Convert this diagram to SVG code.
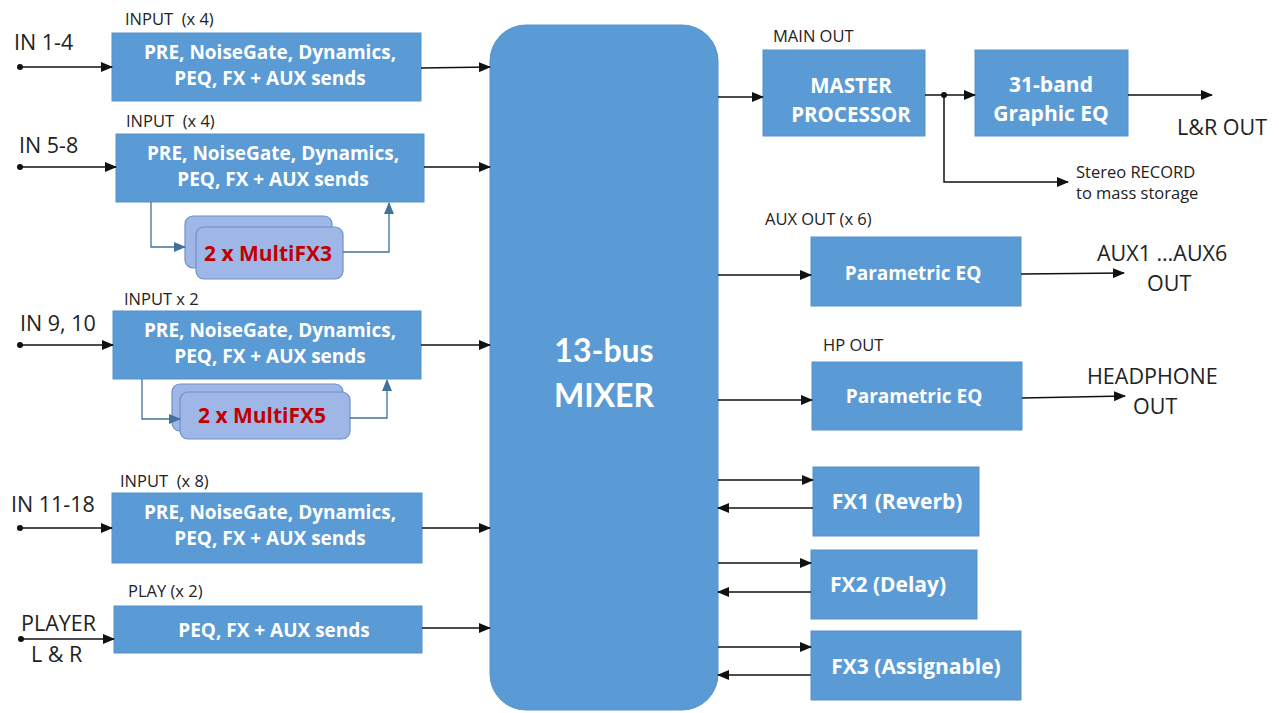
<svg xmlns="http://www.w3.org/2000/svg" width="1279" height="713" viewBox="0 0 1279 713">
<defs>
<style>
.box{fill:#5b9bd5;stroke:#5592cc;stroke-width:1}
.bt{font-family:"Open Sans","Liberation Sans",sans-serif;font-weight:bold;fill:#ffffff;font-size:19px;text-anchor:middle}
.mx{font-family:Lato,"Liberation Sans",sans-serif;font-weight:bold;fill:#ffffff;font-size:32px;text-anchor:middle}
.lbl{font-family:"Open Sans","Liberation Sans",sans-serif;fill:#222;font-size:16.5px;white-space:pre}
.big{font-family:"Open Sans","Liberation Sans",sans-serif;fill:#222;font-size:21.5px}
.con{fill:none;stroke:#111;stroke-width:1.5}
.fxc{fill:none;stroke:#41719c;stroke-width:1.3}
.card{fill:#9fb7e6;stroke:#6f8fcc;stroke-width:1.2}
.red{font-family:"Open Sans","Liberation Sans",sans-serif;font-weight:bold;fill:#c00000;font-size:21px;text-anchor:middle}
</style>
<marker id="ah" markerWidth="12" markerHeight="10" refX="11" refY="5" orient="auto" markerUnits="userSpaceOnUse"><path d="M0,0 L12,5 L0,10 z" fill="#111"/></marker>
<marker id="ahb" markerWidth="12" markerHeight="10" refX="11" refY="5" orient="auto" markerUnits="userSpaceOnUse"><path d="M0,0 L12,5 L0,10 z" fill="#41719c"/></marker>
</defs>
<rect width="1279" height="713" fill="#ffffff"/>

<g id="mixer">
<rect x="490" y="25" width="228" height="685" rx="36" ry="36" class="box"/>
<text x="604" y="362" class="mx">13-bus</text>
<text x="604" y="407" class="mx">MIXER</text>
</g>

<g id="in1">
<text x="14" y="50" class="big">IN 1-4</text>
<text x="125" y="25" class="lbl" xml:space="preserve">INPUT  (x 4)</text>
<rect x="112" y="33" width="309" height="68" class="box"/>
<text x="270" y="59" class="bt">PRE, NoiseGate, Dynamics,</text>
<text x="270" y="85" class="bt">PEQ, FX + AUX sends</text>
</g>

<g id="in2">
<text x="19" y="153" class="big">IN 5-8</text>
<text x="126" y="127" class="lbl" xml:space="preserve">INPUT  (x 4)</text>
<rect x="116" y="134" width="308" height="68" class="box"/>
<text x="273" y="160" class="bt">PRE, NoiseGate, Dynamics,</text>
<text x="273" y="186" class="bt">PEQ, FX + AUX sends</text>
</g>

<g id="mfx3">
<rect x="185" y="216" width="147" height="52" rx="8" class="card"/>
<rect x="196" y="227" width="147" height="52" rx="8" class="card"/>
<text x="268" y="261" class="red">2 x MultiFX3</text>
</g>

<g id="in3">
<text x="20" y="331" class="big">IN 9, 10</text>
<text x="124" y="305" class="lbl">INPUT x 2</text>
<rect x="113" y="311" width="308" height="68" class="box"/>
<text x="270" y="337" class="bt">PRE, NoiseGate, Dynamics,</text>
<text x="270" y="363" class="bt">PEQ, FX + AUX sends</text>
</g>

<g id="mfx5">
<rect x="172" y="384" width="171" height="47" rx="8" class="card"/>
<rect x="180" y="392" width="170" height="47" rx="8" class="card"/>
<text x="262" y="423" class="red">2 x MultiFX5</text>
</g>

<g id="in4">
<text x="11" y="512" class="big">IN 11-18</text>
<text x="120" y="487" class="lbl" xml:space="preserve">INPUT  (x 8)</text>
<rect x="112" y="493" width="310" height="70" class="box"/>
<text x="270" y="519" class="bt">PRE, NoiseGate, Dynamics,</text>
<text x="270" y="545" class="bt">PEQ, FX + AUX sends</text>
</g>

<g id="play">
<text x="21" y="631" class="big">PLAYER</text>
<text x="31" y="662" class="big">L &amp; R</text>
<text x="128" y="597" class="lbl">PLAY (x 2)</text>
<rect x="114" y="606" width="308" height="47" class="box"/>
<text x="274" y="637" class="bt">PEQ, FX + AUX sends</text>
</g>

<g id="master">
<text x="773" y="42" class="lbl">MAIN OUT</text>
<rect x="763" y="50" width="162" height="86" class="box"/>
<text x="851" y="93" class="bt" style="font-size:20.5px">MASTER</text>
<text x="851" y="122" class="bt" style="font-size:20.5px">PROCESSOR</text>
</g>

<g id="geq">
<rect x="975" y="50" width="153" height="86" class="box"/>
<text x="1051" y="92" class="bt" style="font-size:21px">31-band</text>
<text x="1051" y="121" class="bt" style="font-size:21px">Graphic EQ</text>
<text x="1177" y="135" class="big">L&amp;R OUT</text>
<text x="1076" y="178" class="lbl">Stereo RECORD</text>
<text x="1076" y="199" class="lbl">to mass storage</text>
</g>

<g id="aux">
<text x="765" y="225" class="lbl">AUX OUT (x 6)</text>
<rect x="811" y="237" width="210" height="69" class="box"/>
<text x="913" y="280" class="bt">Parametric EQ</text>
<text x="1097" y="261" class="big">AUX1 …AUX6</text>
<text x="1147" y="291" class="big">OUT</text>
</g>

<g id="hp">
<text x="823" y="351" class="lbl">HP OUT</text>
<rect x="812" y="362" width="210" height="68" class="box"/>
<text x="914" y="403" class="bt">Parametric EQ</text>
<text x="1087" y="384" class="big">HEADPHONE</text>
<text x="1133" y="414" class="big">OUT</text>
</g>

<g id="fx1">
<rect x="813" y="467" width="166" height="69" class="box"/>
<text x="897" y="509" class="bt" style="font-size:21px">FX1 (Reverb)</text>
</g>
<g id="fx2">
<rect x="811" y="550" width="166" height="69" class="box"/>
<text x="888" y="592" class="bt" style="font-size:21px">FX2 (Delay)</text>
</g>
<g id="fx3">
<rect x="811" y="631" width="210" height="69" class="box"/>
<text x="916" y="674" class="bt" style="font-size:21px">FX3 (Assignable)</text>
</g>

<g id="connectors">
<circle cx="20" cy="67" r="3" fill="#111"/>
<line x1="20" y1="67" x2="112" y2="67" class="con" marker-end="url(#ah)"/>
<circle cx="20" cy="167" r="3" fill="#111"/>
<line x1="20" y1="167" x2="116" y2="167" class="con" marker-end="url(#ah)"/>
<circle cx="20" cy="345" r="3" fill="#111"/>
<line x1="20" y1="345" x2="113" y2="345" class="con" marker-end="url(#ah)"/>
<circle cx="20" cy="528" r="3" fill="#111"/>
<line x1="20" y1="528" x2="112" y2="528" class="con" marker-end="url(#ah)"/>
<circle cx="21" cy="639" r="3" fill="#111"/>
<line x1="21" y1="639" x2="114" y2="639" class="con" marker-end="url(#ah)"/>

<line x1="421" y1="68" x2="490" y2="67" class="con" marker-end="url(#ah)"/>
<line x1="424" y1="167" x2="490" y2="167" class="con" marker-end="url(#ah)"/>
<line x1="421" y1="345" x2="490" y2="345" class="con" marker-end="url(#ah)"/>
<line x1="422" y1="528" x2="490" y2="528" class="con" marker-end="url(#ah)"/>
<line x1="422" y1="628" x2="490" y2="628" class="con" marker-end="url(#ah)"/>

<polyline points="151,202 151,247 185,247" class="fxc" marker-end="url(#ahb)"/>
<polyline points="343,252 389,252 389,203" class="fxc" marker-end="url(#ahb)"/>
<polyline points="142,379 142,419 180,419" class="fxc" marker-end="url(#ahb)"/>
<polyline points="350,418 387,418 387,380" class="fxc" marker-end="url(#ahb)"/>

<line x1="718" y1="97" x2="763" y2="97" class="con" marker-end="url(#ah)"/>
<line x1="925" y1="95" x2="975" y2="95" class="con" marker-end="url(#ah)"/>
<circle cx="944" cy="95" r="3" fill="#111"/>
<polyline points="944,95 944,182 1068,182" class="con" marker-end="url(#ah)"/>
<line x1="1128" y1="95" x2="1212" y2="95" class="con" marker-end="url(#ah)"/>

<line x1="718" y1="275" x2="811" y2="275" class="con" marker-end="url(#ah)"/>
<line x1="1021" y1="274" x2="1124" y2="273" class="con" marker-end="url(#ah)"/>
<line x1="718" y1="400" x2="812" y2="400" class="con" marker-end="url(#ah)"/>
<line x1="1022" y1="398" x2="1125" y2="396" class="con" marker-end="url(#ah)"/>

<line x1="718" y1="480" x2="813" y2="480" class="con" marker-end="url(#ah)"/>
<line x1="813" y1="508" x2="718" y2="508" class="con" marker-end="url(#ah)"/>
<line x1="718" y1="563" x2="811" y2="563" class="con" marker-end="url(#ah)"/>
<line x1="811" y1="592" x2="718" y2="592" class="con" marker-end="url(#ah)"/>
<line x1="718" y1="647" x2="811" y2="647" class="con" marker-end="url(#ah)"/>
<line x1="811" y1="675" x2="718" y2="675" class="con" marker-end="url(#ah)"/>
</g>
</svg>
